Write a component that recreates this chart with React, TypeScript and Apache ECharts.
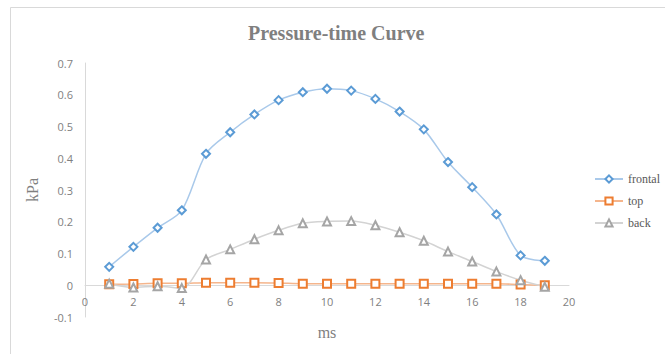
import React, { useEffect, useRef } from "react";
import * as echarts from "echarts";

const times = [1, 2, 3, 4, 5, 6, 7, 8, 9, 10, 11, 12, 13, 14, 15, 16, 17, 18, 19];
const frontal = [0.058, 0.121, 0.181, 0.236, 0.414, 0.482, 0.538, 0.583, 0.608, 0.619, 0.613, 0.587, 0.547, 0.491, 0.388, 0.309, 0.223, 0.094, 0.077];
const top = [0.003, 0.004, 0.006, 0.006, 0.008, 0.008, 0.008, 0.007, 0.005, 0.005, 0.005, 0.005, 0.005, 0.005, 0.005, 0.005, 0.005, 0.002, 0.0];
const back = [0.005, -0.007, -0.003, -0.009, 0.081, 0.113, 0.145, 0.173, 0.195, 0.201, 0.202, 0.189, 0.167, 0.14, 0.106, 0.075, 0.043, 0.016, -0.005];

const seriesNames = ["frontal", "top", "back"];

export default function App() {
  const ref = useRef<HTMLDivElement>(null);
  useEffect(() => {
    const chart = echarts.init(ref.current!, null, { renderer: "svg" });
    const mk = (name: string, vals: number[], symbol: string, color: string, lineColor: string) => ({
      name,
      type: "line",
      data: times.map((t, i) => [t, vals[i]]),
      smooth: 0.3,
      symbol,
      symbolSize: 8,
      showSymbol: true,
      lineStyle: { color: lineColor, width: 1.5 },
      itemStyle: { color: "#ffffff", borderColor: color, borderWidth: 2 },
      emphasis: { disabled: true },
    });
    chart.setOption({
      animation: false,
      title: {
        text: "Pressure-time Curve",
        left: 243,
        top: 18,
        textStyle: { fontFamily: "Liberation Serif", fontWeight: "bold", fontSize: 20, color: "#7f7f7f" },
      },
      graphic: [
        { type: "line", shape: { x1: 10.5, y1: 7.5, x2: 665, y2: 7.5 }, style: { stroke: "#d9d9d9", lineWidth: 1 } },
        { type: "line", shape: { x1: 10.5, y1: 7.5, x2: 10.5, y2: 354 }, style: { stroke: "#d9d9d9", lineWidth: 1 } },
      ],
      legend: {
        orient: "vertical",
        left: 589,
        top: 168,
        itemWidth: 28,
        itemHeight: 9,
        itemGap: 10,
        data: seriesNames,
        textStyle: { fontFamily: "Liberation Serif", fontSize: 12, color: "#595959" },
      },
      grid: { left: 85, right: 96, top: 63, bottom: 37, outerBoundsMode: "none", containLabel: false },
      xAxis: {
        type: "value",
        min: 0,
        max: 20,
        interval: 2,
        name: "ms",
        nameLocation: "middle",
        nameGap: 7,
        nameTextStyle: { fontFamily: "Liberation Serif", fontSize: 16, color: "#7f7f7f" },
        axisLine: { onZero: true, lineStyle: { color: "#d9d9d9" } },
        axisTick: { show: false },
        splitLine: { show: false },
        axisLabel: { margin: -21, fontFamily: "Open Sans", fontSize: 11, color: "#7f7f7f" },
      },
      yAxis: {
        type: "value",
        min: -0.1,
        max: 0.7,
        interval: 0.1,
        name: "kPa",
        nameLocation: "middle",
        nameGap: 45,
        nameRotate: 90,
        nameTextStyle: { fontFamily: "Liberation Serif", fontSize: 16, color: "#7f7f7f" },
        axisLine: { show: true, onZero: false, lineStyle: { color: "#d9d9d9" } },
        axisTick: { show: false },
        splitLine: { show: false },
        axisLabel: {
          margin: 12,
          fontFamily: "Open Sans",
          fontSize: 11,
          color: "#7f7f7f",
          formatter: (v: number) => String(Math.round(v * 10) / 10),
        },
      },
      series: [
        mk("frontal", frontal, "diamond", "#5b9bd5", "#a9c9ea"),
        mk("top", top, "rect", "#ed7d31", "#f5b58c"),
        mk("back", back, "triangle", "#a5a5a5", "#d3d3d3"),
      ],
    });
    return () => chart.dispose();
  }, []);
  return <div ref={ref} style={{ position: "absolute", left: 0, top: 0, width: 665, height: 354 }} />;
}
